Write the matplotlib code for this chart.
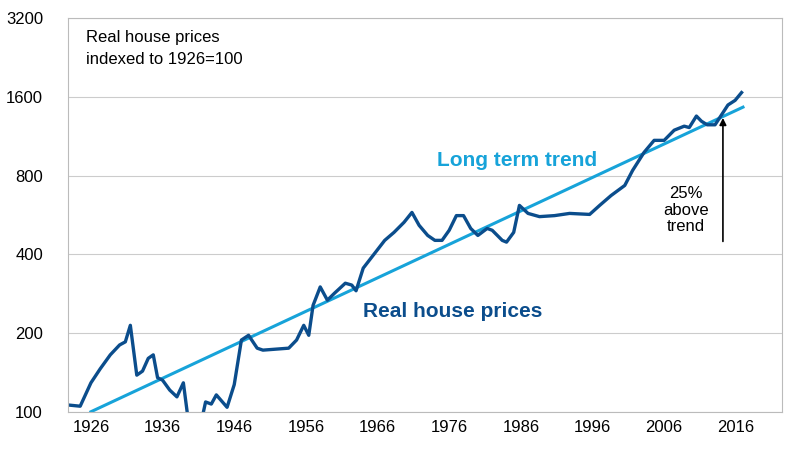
import matplotlib.pyplot as plt
from matplotlib.ticker import FixedLocator, NullLocator

plt.rcParams['font.family'] = ['Liberation Sans Narrow', 'Liberation Sans', 'DejaVu Sans']

years = [1923, 1924.5, 1926, 1927.3, 1928.7, 1930, 1930.8, 1931.5, 1932.4, 1933.2,
         1934, 1934.7, 1935.3, 1936, 1937, 1938, 1938.9, 1939.6, 1941.6, 1942,
         1942.8, 1943.5, 1945, 1946, 1947, 1948, 1949.2, 1950, 1953.6, 1954.7,
         1955.7, 1956.4, 1957, 1958, 1959, 1960, 1961.5, 1962.4, 1963, 1964,
         1965.5, 1967, 1968.3, 1969.7, 1970.8, 1971.8, 1973, 1974, 1975, 1976,
         1977, 1978, 1979, 1980, 1981.3, 1982, 1983.4, 1984, 1985, 1985.8,
         1987, 1988.6, 1990.7, 1992.8, 1995.6, 1997, 1998.6, 2000.5, 2001.6,
         2003.2, 2004.6, 2006, 2007.4, 2008.8, 2009.5, 2010.5, 2011.2, 2012,
         2013.1, 2014.9, 2015.9, 2016.8]
prices = [106, 105, 129, 146, 165, 180, 185, 214, 138, 143,
          160, 165, 135, 132, 121, 114, 129, 92, 97, 109,
          107, 116, 104, 127, 188, 196, 175, 172, 175, 188,
          214, 196, 255, 300, 267, 284, 310, 305, 290, 354,
          400, 452, 485, 530, 578, 516, 472, 452, 452, 494,
          562, 562, 502, 472, 502, 494, 452, 445, 485, 615,
          573, 557, 562, 573, 568, 615, 671, 733, 837,
          981, 1090, 1090, 1192, 1235, 1220, 1350, 1290, 1250,
          1250, 1488, 1550, 1660]
trend_years = [1926, 2017]
trend_vals = [100, 1460]

DARK = '#0b4d8c'
LIGHT = '#17a3d9'

fig, ax = plt.subplots(figsize=(8, 4.5), dpi=100)
fig.subplots_adjust(left=0.085, right=0.978, top=0.96, bottom=0.085)

ax.plot(trend_years, trend_vals, color=LIGHT, lw=2.2)
ax.plot(years, prices, color=DARK, lw=2.4)

ax.set_yscale('log', base=2)
ax.set_ylim(100, 3200)
ax.set_xlim(1922.8, 2022.5)
yt = [100, 200, 400, 800, 1600, 3200]
ax.yaxis.set_major_locator(FixedLocator(yt))
ax.yaxis.set_minor_locator(NullLocator())
ax.set_yticklabels([str(v) for v in yt], fontsize=12)
ax.set_xticks(list(range(1926, 2017, 10)))
ax.tick_params(axis='x', labelsize=12, length=0, pad=6)
ax.tick_params(axis='y', length=0, pad=18)
ax.grid(axis='y', color='#cccccc', lw=0.8)
for s in ax.spines.values():
    s.set_color('#bbbbbb')
    s.set_linewidth(0.8)

ax.text(0.025, 0.97, 'Real house prices\nindexed to 1926=100', transform=ax.transAxes,
        va='top', ha='left', fontsize=12, linespacing=1.6)
ax.text(1985.5, 870, 'Long term trend', color=LIGHT, fontsize=15, fontweight='bold', ha='center')
ax.text(1964, 230, 'Real house prices', color=DARK, fontsize=15, fontweight='bold', ha='left')
ax.text(2009, 590, '25%\nabove\ntrend', fontsize=12, ha='center', va='center', linespacing=1.1)
ax.annotate('', xy=(2014.2, 1360), xytext=(2014.2, 437),
            arrowprops=dict(arrowstyle='-|>', color='black', lw=1.2, mutation_scale=10))

fig.savefig('out.png', dpi=100)
